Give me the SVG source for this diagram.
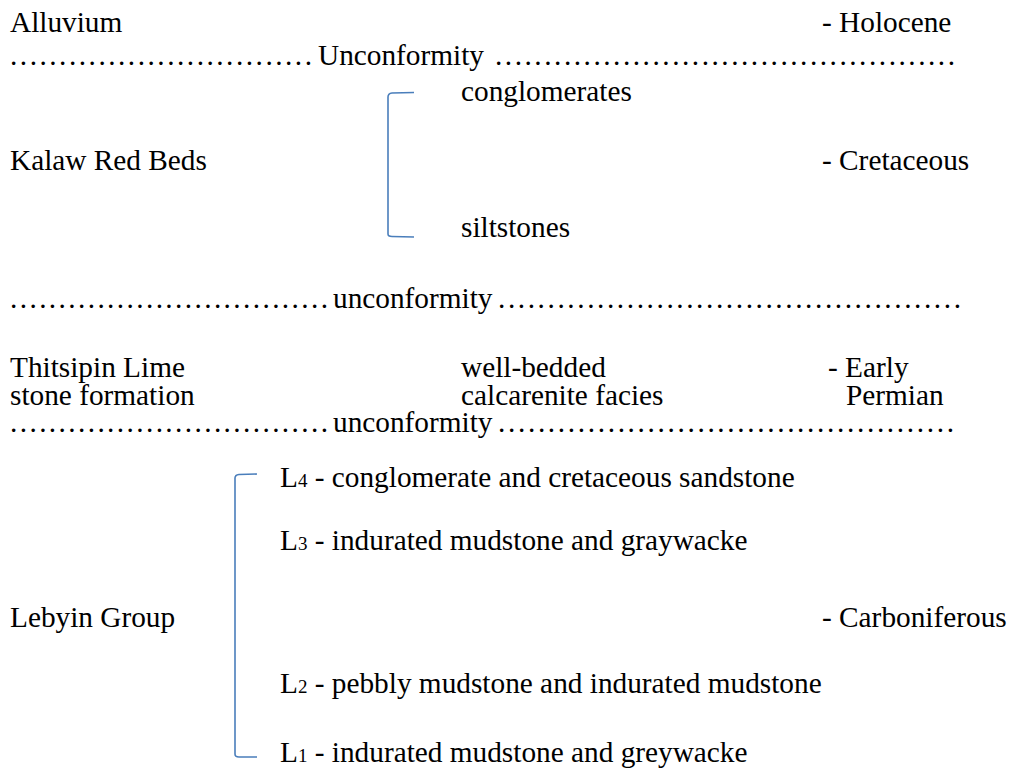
<svg xmlns="http://www.w3.org/2000/svg" width="1012" height="769" viewBox="0 0 1012 769">
<style>
text{font-family:"Liberation Serif","Times New Roman",serif;font-size:29.3px;fill:#000}
.sub{font-size:19px}
.br{fill:none;stroke:#4a7ebb;stroke-width:1.6}
</style>
<rect width="1012" height="769" fill="#fff"/>
<g id="alluvium">
<text x="10" y="32">Alluvium</text>
<text x="822" y="32">- Holocene</text>
</g>
<g id="unconformity1">
<text x="10" y="65" textLength="302" lengthAdjust="spacing">...............................</text>
<text x="318" y="65">Unconformity</text>
<text x="495" y="65" textLength="460" lengthAdjust="spacing">...............................................</text>
</g>
<g id="kalaw">
<text x="10" y="170">Kalaw Red Beds</text>
<text x="461" y="101">conglomerates</text>
<text x="461" y="237">siltstones</text>
<text x="822" y="170">- Cretaceous</text>
</g>
<g id="unconformity2">
<text x="10" y="308" textLength="318" lengthAdjust="spacing">.................................</text>
<text x="333" y="308">unconformity</text>
<text x="498" y="308" textLength="463" lengthAdjust="spacing">...............................................</text>
</g>
<g id="thitsipin">
<text x="10" y="377">Thitsipin Lime</text>
<text x="10" y="405">stone formation</text>
<text x="461" y="377">well-bedded</text>
<text x="461" y="405">calcarenite facies</text>
<text x="828" y="377">- Early</text>
<text x="846" y="405">Permian</text>
</g>
<g id="unconformity3">
<text x="10" y="432" textLength="318" lengthAdjust="spacing">.................................</text>
<text x="333" y="432">unconformity</text>
<text x="498" y="432" textLength="456" lengthAdjust="spacing">..............................................</text>
</g>
<g id="lebyin">
<text x="10" y="627">Lebyin Group</text>
<text x="822" y="627">- Carboniferous</text>
<text x="280" y="487">L<tspan class="sub">4</tspan> - conglomerate and cretaceous sandstone</text>
<text x="280" y="550">L<tspan class="sub">3</tspan> - indurated mudstone and graywacke</text>
<text x="280" y="693">L<tspan class="sub">2</tspan> - pebbly mudstone and indurated mudstone</text>
<text x="280" y="762">L<tspan class="sub">1</tspan> - indurated mudstone and greywacke</text>
</g>
<g id="connectors">
<path class="br" d="M414,92.5 L392,93 Q388,93.5 388,97 L388,234 Q388,236.5 392,236.5 L414,237"/>
<path class="br" d="M257,474 L239,474.5 Q235,475 235,478 L235,754 Q235,757 239,757 L257,757"/>
</g>
</svg>
